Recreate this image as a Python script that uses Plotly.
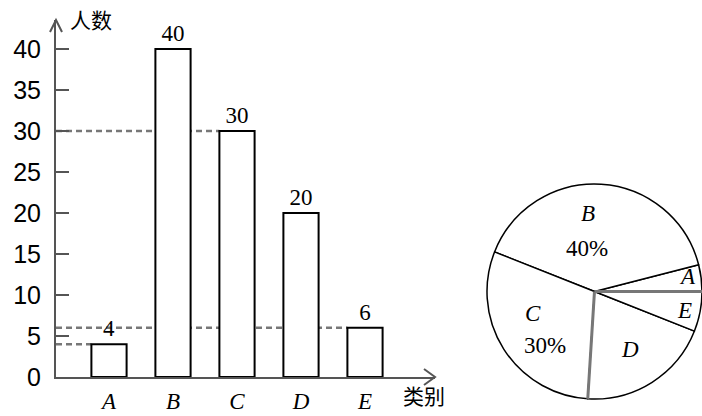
import math
import plotly.graph_objects as go

# Survey data: number of people per category
categories = ["A", "B", "C", "D", "E"]
counts = [4, 40, 30, 20, 6]
percent_labels = ["", "40%", "30%", "", ""]
y_ticks = [0, 5, 10, 15, 20, 25, 30, 35, 40]
guide_values = [30, 6, 4]          # dashed reference levels
guide_targets = ["C", "E", "A"]    # bar each dashed line runs to
bold_edges = ["A", "D"]            # pie radii drawn heavier: start of A, start of D

W, H = 702, 416
AXIS_COLOR = "#555555"

# plot-area geometry (pixels)
ax_left, ax_right = 56, 435
ax_bottom, ax_top = 377, 20
px_per_unit = 8.2
cat0_px, cat_step = 109, 64
bar_w = 0.55

# pie box (pixels)
pie_left, pie_right, pie_top, pie_bottom = 487, 702, 183, 400


def px(x):
    return x / W


def py(y):
    return 1 - y / H


x_range = [(ax_left - cat0_px) / cat_step, (ax_right - cat0_px) / cat_step]
y_range = [0, (ax_bottom - ax_top) / px_per_unit]

fig = go.Figure()

fig.add_trace(go.Bar(
    x=list(range(len(categories))),
    y=counts,
    width=bar_w,
    marker=dict(color="white", line=dict(color="black", width=2)),
    text=[str(v) for v in counts],
    textposition="outside",
    textfont=dict(family="Liberation Serif", size=23, color="black"),
    cliponaxis=False,
    showlegend=False,
    hoverinfo="skip",
))

# counterclockwise pies in plotly end the first slice at `rotation`,
# so shift by the first slice so that it starts at 3 o'clock
total = sum(counts)
first_share = 360 * counts[0] / total
fig.add_trace(go.Pie(
    labels=categories,
    values=counts,
    sort=False,
    direction="counterclockwise",
    rotation=90 - first_share,
    textinfo="none",
    marker=dict(colors=["white"] * 5, line=dict(color="black", width=1.5)),
    domain=dict(x=[px(pie_left), px(pie_right)], y=[py(pie_bottom), py(pie_top)]),
    showlegend=False,
    hoverinfo="skip",
))

# dashed guides from the y-axis to the left edge of the target bar
shapes = []
for val, tgt in zip(guide_values, guide_targets):
    idx = categories.index(tgt)
    shapes.append(dict(
        type="line", xref="x", yref="y",
        x0=x_range[0], x1=idx - bar_w / 2, y0=val, y1=val,
        line=dict(color="#777777", width=2.5, dash="6px,4px"),
        layer="below",
    ))

# heavier grey radii at the start of the chosen slices
pie_r = min(pie_right - pie_left, pie_bottom - pie_top) / 2
pie_cx = (pie_left + pie_right) / 2
pie_cy = (pie_top + pie_bottom) / 2
for cat in bold_edges:
    start = sum(counts[:categories.index(cat)])
    ang = math.radians(360 * start / total)
    shapes.append(dict(
        type="line", xref="paper", yref="paper",
        x0=px(pie_cx), y0=py(pie_cy),
        x1=px(pie_cx + pie_r * math.cos(ang)), y1=py(pie_cy - pie_r * math.sin(ang)),
        line=dict(color="#777777", width=3),
    ))

# arrow heads at the ends of both axes
shapes.append(dict(
    type="path", xref="paper", yref="paper",
    path=f"M {px(ax_left-6)},{py(ax_top+12)} L {px(ax_left)},{py(ax_top)} L {px(ax_left+6)},{py(ax_top+12)}",
    line=dict(color=AXIS_COLOR, width=2),
))
shapes.append(dict(
    type="path", xref="paper", yref="paper",
    path=f"M {px(ax_right-11)},{py(ax_bottom-8)} L {px(ax_right)},{py(ax_bottom)} L {px(ax_right-11)},{py(ax_bottom+8)}",
    line=dict(color=AXIS_COLOR, width=2),
))

annotations = [
    dict(text="人数", x=px(68), y=py(19), xref="paper", yref="paper",
         xanchor="left", yanchor="middle", showarrow=False,
         font=dict(family="Noto Sans CJK SC", size=21, color="black")),
    dict(text="类别", x=px(401), y=py(395), xref="paper", yref="paper",
         xanchor="left", yanchor="middle", showarrow=False,
         font=dict(family="Noto Sans CJK SC", size=21, color="black")),
]

# pie slice labels
pie_label_pos = {"A": (687, 276), "B": (588, 214), "C": (533, 313), "D": (630, 349), "E": (684, 310)}
pct_pos = {"B": (587, 248), "C": (545, 345)}
label_font = dict(family="Liberation Serif", size=23, color="black")
for cat, pct in zip(categories, percent_labels):
    x, y = pie_label_pos[cat]
    annotations.append(dict(
        text=f"<i>{cat}</i>", x=px(x), y=py(y), xref="paper", yref="paper",
        xanchor="center", yanchor="middle", showarrow=False, font=label_font))
    if pct:
        x, y = pct_pos[cat]
        annotations.append(dict(
            text=pct, x=px(x), y=py(y), xref="paper", yref="paper",
            xanchor="center", yanchor="middle", showarrow=False, font=label_font))

fig.update_layout(
    width=W, height=H, autosize=False,
    margin=dict(l=0, r=0, t=0, b=0, pad=0),
    paper_bgcolor="white", plot_bgcolor="white",
    shapes=shapes, annotations=annotations,
    xaxis=dict(
        domain=[px(ax_left), px(ax_right)],
        range=x_range,
        tickvals=list(range(len(categories))),
        ticktext=[f"<i>{c}</i>" for c in categories],
        tickfont=dict(family="Liberation Serif", size=23, color="black"),
        ticks="", showgrid=False, zeroline=False,
        showline=True, linecolor=AXIS_COLOR, linewidth=2,
        ticklabelstandoff=2, automargin=False,
    ),
    yaxis=dict(
        domain=[py(ax_bottom), py(ax_top)],
        range=y_range,
        tickvals=y_ticks,
        tickfont=dict(family="Liberation Sans", size=25, color="black"),
        ticks="inside", ticklen=13, tickwidth=2, tickcolor=AXIS_COLOR,
        showgrid=False, zeroline=False,
        showline=True, linecolor=AXIS_COLOR, linewidth=2,
        ticklabelstandoff=8, automargin=False,
    ),
)

fig.write_html("out.html")
